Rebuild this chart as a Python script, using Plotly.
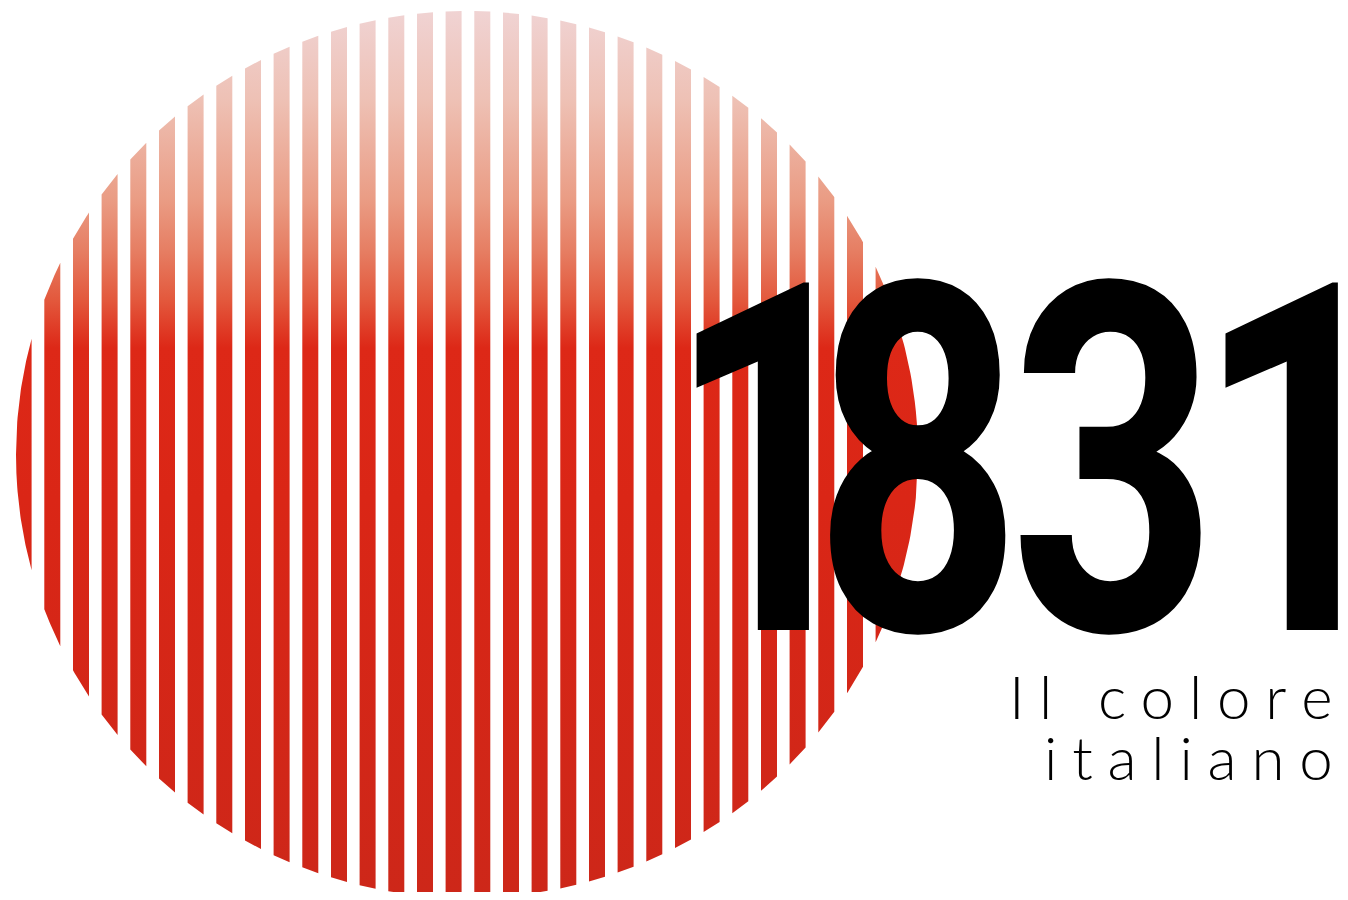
import numpy as np
import plotly.graph_objects as go

# ---- data -------------------------------------------------------------
# left / right edges of the 31 vertical stripes (pixel-like x units)
stripe_x0 = [16.0, 44.3, 73.0, 101.6, 130.3, 159.0, 187.6, 216.3, 245.0, 273.6,
             302.3, 331.0, 359.6, 388.3, 417.0, 445.6, 474.3, 503.0, 531.6, 560.3,
             589.0, 617.6, 646.3, 675.0, 703.6, 732.3, 761.0, 789.6, 818.3, 847.0,
             875.6]
stripe_x1 = [31.6, 60.3, 89.0, 117.6, 146.3, 175.0, 203.6, 232.3, 261.0, 289.6,
             318.3, 347.0, 375.6, 404.3, 433.0, 461.6, 490.3, 519.0, 547.6, 576.3,
             605.0, 633.6, 662.3, 691.0, 719.6, 748.3, 777.0, 805.6, 834.3, 863.0,
             918.0]

# vertical colour ramp of the disc (position 0 = top, 1 = bottom)
ramp_pos = [0.0, 0.10, 0.213, 0.27, 0.325, 0.38, 0.55, 1.0]
ramp_col = ["#f0d3d3", "#eec1b5", "#ea9c84", "#e67e63", "#e3593d", "#dd2817",
            "#da2616", "#cd2719"]

year_digits = ["1", "8", "3", "1"]
year_gaps = [-83, -17, -30, -75]        # tracking after each digit (px, before squeeze)
tagline = ["Il colore", "italiano"]

# ---- geometry / style -------------------------------------------------
cx, cy, rx, ry = 467.0, 454.5, 451.0, 443.5
X_RANGE = [8, 1340]     # plot area sits 8px inside the page
Y_RANGE = [892, 8]
SQUEEZE = 0.745         # horizontal condensation of the year
TRACK = 14.8            # tagline letter spacing

xs_all, ys_all = [], []
for x0, x1 in zip(stripe_x0, stripe_x1):
    xs = np.linspace(x0, x1, 40)
    h = ry * np.sqrt(np.clip(1 - ((xs - cx) / rx) ** 2, 0, None))
    top = cy - h
    bot = cy + h
    px = list(xs) + list(xs[::-1]) + [xs[0]]
    py = list(top) + list(bot[::-1]) + [top[0]]
    xs_all += px + [None]
    ys_all += py + [None]

fig = go.Figure()
fig.add_trace(go.Scatter(
    x=xs_all, y=ys_all, mode="lines", fill="toself",
    line=dict(width=0, color="rgba(0,0,0,0)"),
    fillcolor="#dc2a18",
    fillgradient=dict(type="vertical",
                      colorscale=[[p, c] for p, c in zip(ramp_pos, ramp_col)],
                      start=cy - ry, stop=cy + ry),
    hoverinfo="skip", showlegend=False,
))

year_html = "".join(
    '<span style="letter-spacing:%dpx">%s</span>' % (g, d) if g else d
    for d, g in zip(year_digits, year_gaps)
)
fig.add_annotation(
    x=1007, y=463, xref="x", yref="y", xanchor="center", yanchor="middle",
    height=390, valign="middle",
    text=year_html, showarrow=False,
    font=dict(family="Roboto, sans-serif", size=488, color="#000000", weight="bold"),
)
for line, yy in zip(tagline, [696, 757]):
    fig.add_annotation(
        x=1335, y=yy, xref="x", yref="y", xanchor="right", yanchor="middle",
        height=54, valign="middle",
        text='<span style="letter-spacing:%.1fpx">%s</span>%s' % (TRACK, line[:-1], line[-1]),
        showarrow=False,
        font=dict(family="Lato, sans-serif", size=60, color="#000000", weight=300),
    )

fig.update_layout(
    margin=dict(l=0, r=0, t=0, b=0),
    paper_bgcolor="#ffffff", plot_bgcolor="#ffffff",
    xaxis=dict(range=X_RANGE, visible=False, fixedrange=True),
    yaxis=dict(range=Y_RANGE, visible=False, fixedrange=True),
    showlegend=False,
)

js = """
(function(){
  var S = %f;
  document.querySelectorAll('text.annotation-text').forEach(function(t){
    if (t.textContent.replace(/\\s/g,'') === '1831') {
      var g = t.closest('.annotation-text-g') || t;
      var b = g.getBBox();
      var c = b.x + b.width/2;
      var old = g.getAttribute('transform') || '';
      g.setAttribute('transform', old + ' translate(' + c + ',0) scale(' + S + ',1) translate(' + (-c) + ',0)');
    }
  });
})();
""" % SQUEEZE
fig.write_html("out.html", post_script=js)
